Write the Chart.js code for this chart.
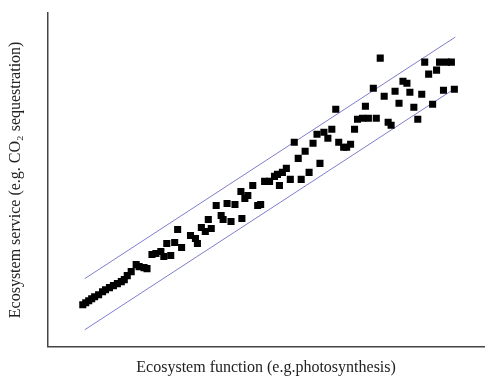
<!DOCTYPE html>
<html>
<head>
<meta charset="utf-8">
<script src="https://cdn.jsdelivr.net/npm/chart.js@4/dist/chart.umd.min.js"></script>
<style>
html,body{margin:0;padding:0;background:#fff;}
#wrap{width:489px;height:378px;}
</style>
</head>
<body>
<div id="wrap"><canvas id="c" width="489" height="378"></canvas></div>
<script>
// Observations: ecosystem function (x) vs ecosystem service (y), arbitrary units
const funcX = [35,38,41,44,47,51,55,58,62,66,70,74,77,80,84,89,92,97,100,
  105,109,114,117,124,120,128,131,135,144,149,151,155,159,165,162,175,177,185,196,
  170,181,189,195,202,199,207,212,215,219,224,229,232,237,241,234,245,256,
  253,249,260,264,268,272,275,279,283,287,291,294,299,302,306,310,313,318,324,332,
  321,329,336,340,344,347,351,355,359,363,366,370,374,378,381,385,389,393,396,403,408,400,411];
const serviceY = [42,44,46,48,50,52,55,57,59,61,63,65,67,71,75,82,80,79,78,
  92,93,95,90,91,103,104,117,99,111,108,103,119,115,118,127,131,127,125,128,
  141,143,142,155,151,148,161,141,142,165,165,170,172,174,178,161,167,167,
  188,204,195,174,203,212,183,214,208,217,237,204,199,199,202,217,227,228,228,228,
  240,258,288,250,224,221,255,243,265,263,254,239,227,252,284,272,242,276,284,284,284,256,257];
// Envelope lines (start/end)
const upperX = [37,412], upperY = [68,309];
const lowerX = [37,412], lowerY = [17,258];
const xTitle = 'Ecosystem function (e.g.photosynthesis)';
const yTitle = 'Ecosystem service (e.g. CO\u2082 sequestration)';

const pts = funcX.map((x,i)=>({x:x,y:serviceY[i]}));
const up = upperX.map((x,i)=>({x:x,y:upperY[i]}));
const lo = lowerX.map((x,i)=>({x:x,y:lowerY[i]}));

const lineColor = 'rgb(125,125,205)';
new Chart(document.getElementById('c'),{
  type:'scatter',
  data:{datasets:[
    {data:pts,backgroundColor:'#000',borderColor:'#000',borderWidth:0,pointStyle:'rect',pointRadius:5,pointHoverRadius:5,order:0},
    {type:'line',data:up,borderColor:lineColor,borderWidth:1,pointRadius:0,fill:false,order:1},
    {type:'line',data:lo,borderColor:lineColor,borderWidth:1,pointRadius:0,fill:false,order:1}
  ]},
  options:{
    responsive:false,animation:false,
    layout:{padding:{left:6,right:0,top:13,bottom:1}},
    plugins:{legend:{display:false},tooltip:{enabled:false}},
    scales:{
      x:{type:'linear',min:0,max:441,
        grid:{display:false},ticks:{display:false},
        border:{display:true,color:'#444',width:1.5},
        title:{display:true,text:xTitle,color:'#222',font:{family:'Liberation Serif',size:16},padding:{top:3,bottom:0}}},
      y:{type:'linear',min:0,max:333,
        grid:{display:false},ticks:{display:false},
        border:{display:true,color:'#444',width:1.5},
        title:{display:true,text:yTitle,color:'#222',font:{family:'Liberation Serif',size:16},padding:{top:0,bottom:15}}}
    }
  }
});
</script>
</body>
</html>
